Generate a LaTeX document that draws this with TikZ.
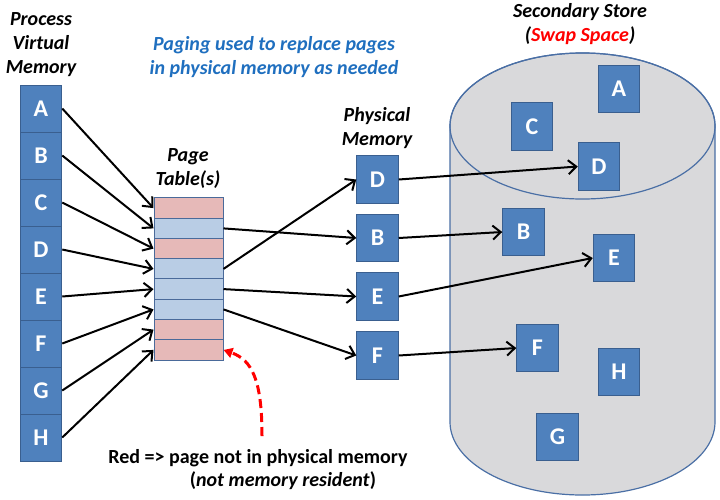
\documentclass[tikz,border=0pt]{standalone}
\usepackage{fontspec}
\setmainfont{Carlito}
\usetikzlibrary{arrows.meta}
\definecolor{pageblue}{HTML}{4F81BD}
\definecolor{pageedge}{HTML}{3A5F8F}
\definecolor{rowblue}{HTML}{B9CDE5}
\definecolor{rowred}{HTML}{E6B9B8}
\definecolor{rowedge}{HTML}{4A6A9A}
\definecolor{diskgray}{HTML}{D9D9DB}
\definecolor{diskedge}{HTML}{4A6FA5}
\definecolor{notetext}{HTML}{1F6FBF}
\begin{document}
\begin{tikzpicture}[x=1pt, y=-1pt,
    page/.style={rectangle, draw=pageedge, line width=1pt, fill=pageblue, text=white,
        minimum width=41.5pt, minimum height=47.5pt, inner sep=0pt,
        font=\fontsize{24}{28}\selectfont\bfseries},
    cell/.style={page, minimum height=47pt},
    entry/.style={rectangle, draw=rowedge, line width=1pt, minimum width=69pt,
        minimum height=20.25pt, inner sep=0pt},
    present/.style={entry, fill=rowblue},
    absent/.style={entry, fill=rowred},
    title/.style={font=\fontsize{20}{24}\selectfont\bfseries\itshape, align=center, inner sep=0pt},
    label/.style={font=\fontsize{20}{24}\selectfont\bfseries, inner sep=0pt},
    map/.style={-{Straight Barb[length=8pt,width=14pt]}, line width=2pt}
]
    \useasboundingbox (0,0) rectangle (720,499);

    % Disco (swap)
    \filldraw[fill=diskgray, draw=diskedge, line width=1.2pt]
        (450,126) -- (450,422)
        arc[start angle=180, end angle=360, x radius=132.5pt, y radius=73pt]
        -- (715,126)
        arc[start angle=0, end angle=180, x radius=132.5pt, y radius=73pt] -- cycle;
    \draw[diskedge, line width=1.2pt] (582.5,126) ellipse[x radius=132.5pt, y radius=73pt];

    % Titoli
    \node[title] (vmtitle) at (41,45) {Process\\Virtual\\Memory};
    \node[title] (pttitle) at (188,169) {Page\\Table(s)};
    \node[title] (pmtitle) at (377,128) {Physical\\Memory};
    \node[title] (sstitle) at (580,24) {Secondary Store\\(\textcolor{red}{Swap Space})};
    \node[title, text=notetext] (note) at (274,57) {Paging used to replace pages\\in physical memory as needed};

    % Memoria virtuale
    \node[cell] (vA) at (41,108.5) {A};
    \node[cell] (vB) at (41,155.5) {B};
    \node[cell] (vC) at (41,202.5) {C};
    \node[cell] (vD) at (41,249.5) {D};
    \node[cell] (vE) at (41,296.5) {E};
    \node[cell] (vF) at (41,343.5) {F};
    \node[cell] (vG) at (41,390.5) {G};
    \node[cell] (vH) at (41,437.5) {H};

    % Tabella delle pagine
    \node[absent] (pt1) at (188.5,208.1) {};
    \node[present] (pt2) at (188.5,228.4) {};
    \node[absent] (pt3) at (188.5,248.6) {};
    \node[present] (pt4) at (188.5,268.9) {};
    \node[present] (pt5) at (188.5,289.1) {};
    \node[present] (pt6) at (188.5,309.4) {};
    \node[absent] (pt7) at (188.5,329.6) {};
    \node[absent] (pt8) at (188.5,349.9) {};

    % Memoria fisica
    \node[page] (mD) at (377.5,179.5) {D};
    \node[page] (mB) at (377.5,238) {B};
    \node[page] (mE) at (377.5,296.5) {E};
    \node[page] (mF) at (377.5,355.5) {F};

    % Pagine nello swap
    \node[page] (sA) at (619,89) {A};
    \node[page] (sC) at (532,126.5) {C};
    \node[page] (sD) at (599,166.5) {D};
    \node[page] (sB) at (523.5,232) {B};
    \node[page] (sE) at (614,258) {E};
    \node[page] (sF) at (537.5,348) {F};
    \node[page] (sH) at (619,372) {H};
    \node[page] (sG) at (557.5,437) {G};

    % Legenda
    \node[label] (legend) at (258,458) {Red => page not in physical memory};
    \node[label] (legendb) at (283,481) {(\textit{not memory resident})};
    \coordinate (redtail) at (262,436);

    % Virtuale -> tabella
    \draw[map] (vA.east) -- (pt1.west);
    \draw[map] (vB.east) -- (pt2.west);
    \draw[map] (vC.east) -- (pt3.west);
    \draw[map] (vD.east) -- (pt4.west);
    \draw[map] (vE.east) -- (pt5.west);
    \draw[map] (vF.east) -- (pt6.west);
    \draw[map] (vG.east) -- (pt7.west);
    \draw[map] (vH.east) -- (pt8.west);

    % Tabella -> fisica
    \draw[map] (pt2.east) -- (mB.west);
    \draw[map] (pt4.east) -- (mD.west);
    \draw[map] (pt5.east) -- (mE.west);
    \draw[map] (pt6.east) -- (mF.west);

    % Fisica -> swap
    \draw[map] (mD.east) -- (sD.west);
    \draw[map] (mB.east) -- (sB.west);
    \draw[map] (mE.east) -- (sE.west);
    \draw[map] (mF.east) -- (sF.west);

    \draw[red, line width=3pt, dash pattern=on 9pt off 5pt, -{Triangle[length=9pt,width=10pt]}]
        (redtail) .. controls (262,380) and (252,360) .. (pt8.east);
\end{tikzpicture}
\end{document}
